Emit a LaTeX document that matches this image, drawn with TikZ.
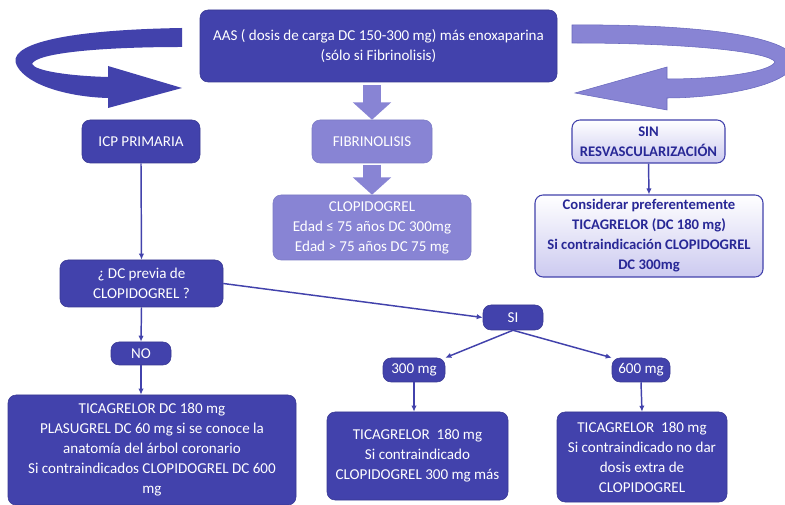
\documentclass[tikz,border=0pt]{standalone}
\usepackage{fontspec}
\setmainfont{Carlito}
\usetikzlibrary{arrows.meta}
\definecolor{boxblue}{RGB}{66,66,172}
\definecolor{boxlilac}{RGB}{136,132,212}
\definecolor{paleblue}{RGB}{204,202,240}
\definecolor{inkblue}{RGB}{40,40,150}

\begin{document}
\begin{tikzpicture}[x=0.75pt,y=-0.75pt,
	every node/.style={align=center,inner sep=2pt,font=\fontsize{11.3}{15}\selectfont},
	darkbox/.style={fill=boxblue,draw=boxblue!85!black,rounded corners=6pt,text=white},
	lilacbox/.style={fill=boxlilac,draw=boxblue!70,rounded corners=6pt,text=white},
	palebox/.style={top color=white,bottom color=paleblue,draw=boxblue,thick,rounded corners=6pt,text=inkblue,font=\fontsize{11}{15}\selectfont\bfseries},
	conn/.style={boxblue,line width=1.1pt,-{Latex[length=4.5pt,width=4pt]}},
	blockarr/.style={boxlilac,line width=13.5pt,-{Triangle[length=13pt,width=28pt]}}]
	\useasboundingbox (0,0) rectangle (785,505);
	\clip (0,0) rectangle (785,505);
	\fill[white] (0,0) rectangle (785,505);
	\fill[boxblue] (182,28) .. controls (60,30) and (5,45) .. (17,66) .. controls (28,86) and (70,97) .. (108,98) -- (108,108) -- (182,88) -- (108,66) -- (108,77) .. controls (70,76) and (35,71) .. (32,64) .. controls (36,53) and (100,47) .. (182,47) -- cycle;
	\filldraw[fill=boxlilac,draw=boxblue!80] (572,25) .. controls (690,24) and (790,35) .. (795,60) .. controls (795,85) and (720,98) .. (667,98) -- (667,110) -- (575,93) -- (667,67) -- (667,79) .. controls (720,79) and (770,72) .. (775,62) .. controls (770,52) and (690,43) .. (572,43) -- cycle;
	\node[darkbox,minimum width=267.75pt,minimum height=54pt] (aas) at (378.5,46) {AAS ( dosis de carga DC 150-300 mg) más enoxaparina\\(sólo si Fibrinolisis)};
	\node[darkbox,minimum width=88.5pt,minimum height=32.25pt] (icp) at (141,141.5) {ICP PRIMARIA};
	\node[lilacbox,minimum width=90pt,minimum height=32.25pt] (fibrino) at (372,141.5) {FIBRINOLISIS};
	\node[lilacbox,minimum width=148.5pt,minimum height=48.75pt] (clopi) at (372,227.5) {CLOPIDOGREL\\Edad ≤ 75 años DC 300mg\\Edad > 75 años DC 75 mg};
	\node[palebox,minimum width=114.75pt,minimum height=32.25pt] (sinrev) at (648.5,141.5) {SIN\\RESVASCULARIZACIÓN};
	\node[palebox,minimum width=171pt,minimum height=61.5pt] (considerar) at (649,236) {Considerar preferentemente\\TICAGRELOR (DC 180 mg)\\Si contraindicación CLOPIDOGREL\\DC 300mg};
	\node[darkbox,minimum width=122.25pt,minimum height=35.25pt] (previa) at (141.5,283.5) {¿ DC previa de\\CLOPIDOGREL ?};
	\node[darkbox,minimum width=45pt,minimum height=18.75pt] (si) at (513,317.5) {SI};
	\node[darkbox,minimum width=45pt,minimum height=17.25pt] (no) at (141,353.5) {NO};
	\node[darkbox,minimum width=46.5pt,minimum height=18pt] (dosis300) at (414,370) {300 mg};
	\node[darkbox,minimum width=43.5pt,minimum height=18pt] (dosis600) at (641,370) {600 mg};
	\node[darkbox,minimum width=216pt,minimum height=82.5pt] (pautano) at (152,450) {TICAGRELOR DC 180 mg\\PLASUGREL DC 60 mg si se conoce la\\anatomía del árbol coronario\\Si contraindicados CLOPIDOGREL DC 600\\mg};
	\node[darkbox,minimum width=135.75pt,minimum height=66pt] (pauta300) at (417.5,456) {TICAGRELOR~~180 mg\\Si contraindicado\\CLOPIDOGREL 300 mg más};
	\node[darkbox,minimum width=127.5pt,minimum height=67.5pt] (pauta600) at (642,457) {TICAGRELOR~~180 mg\\Si contraindicado no dar\\dosis extra de\\CLOPIDOGREL};
	\draw[blockarr,shorten <=2pt] (aas.south -| fibrino.north) -- (fibrino.north);
	\draw[blockarr,shorten <=1pt] (fibrino.south) -- (clopi.north);
	\draw[conn] (icp.south) -- (previa.north);
	\draw[conn] (previa.east) -- (si.west);
	\draw[conn] (previa.south) -- (no.north);
	\draw[conn] (no.south) -- (no.south |- pautano.north);
	\draw[conn] (si.south) -- (dosis300.north east);
	\draw[conn] (si.south) -- (dosis600.north west);
	\draw[conn] (dosis300.south) -- (dosis300.south |- pauta300.north);
	\draw[conn] (dosis600.south) -- (pauta600.north);
	\draw[conn] (sinrev.south) -- (considerar.north);
\end{tikzpicture}
\end{document}
